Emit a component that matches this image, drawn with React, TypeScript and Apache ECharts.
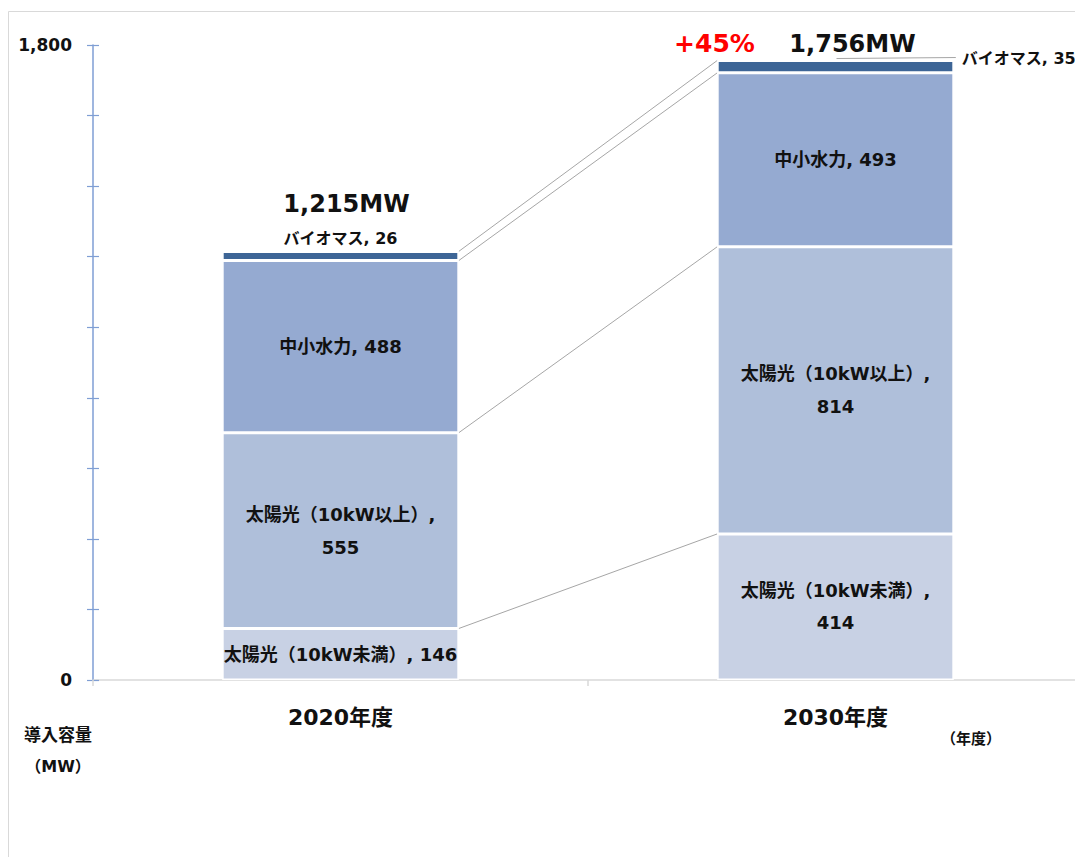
import React, { useEffect, useRef } from "react";
import * as echarts from "echarts";

const categories = ["2020年度", "2030年度"];
const seriesNames = ["太陽光（10kW未満）", "太陽光（10kW以上）", "中小水力", "バイオマス"];
const solarSmall = [146, 414];
const solarLarge = [555, 814];
const hydro = [488, 493];
const biomass = [26, 35];
const totals = [1215, 1756];
const totalLabels = ["1,215MW", "1,756MW"];
const growthLabel = "+45%";
const yTickLabels: Record<number, string> = { 0: "0", 1800: "1,800" };

const FONT = "'DejaVu Sans', 'Noto Sans CJK JP', sans-serif";
const BAR_RATIO = 0.478;

export default function App() {
  const ref = useRef<HTMLDivElement>(null);
  useEffect(() => {
    if (!ref.current) return;
    const chart = echarts.init(ref.current, undefined, { renderer: "svg" });

    const stacks = [solarSmall, solarLarge, hydro, biomass];
    const cum = (i: number) => {
      const out: number[] = [];
      let s = 0;
      for (const arr of stacks) {
        s += arr[i];
        out.push(s);
      }
      return out;
    };
    const c0 = cum(0);
    const c1 = cum(1);
    const connectorData = c0.map((v, k) => [0, v, c1[k]]);

    const baseLabel = {
      show: true,
      color: "#111",
      fontFamily: FONT,
      fontWeight: "bold" as const,
      fontSize: 18,
    };
    const colors = ["#C8D1E4", "#AFBFDA", "#95AAD1", "#3D6596"];

    const barSeries = [
      {
        name: seriesNames[0],
        data: solarSmall,
        label: {
          ...baseLabel,
          position: "inside",
          lineHeight: 32,
          formatter: (p: any) =>
            p.dataIndex === 0 ? `${p.seriesName}, ${p.value}` : `${p.seriesName},\n${p.value}`,
        },
      },
      {
        name: seriesNames[1],
        data: solarLarge,
        label: {
          ...baseLabel,
          position: "inside",
          lineHeight: 33,
          formatter: (p: any) => `${p.seriesName},\n${p.value}`,
        },
      },
      {
        name: seriesNames[2],
        data: hydro,
        label: {
          ...baseLabel,
          position: "inside",
          formatter: (p: any) => `${p.seriesName}, ${p.value}`,
        },
      },
      {
        name: seriesNames[3],
        data: biomass.map((v, i) =>
          i === 0
            ? { value: v, label: { position: "top", distance: 5 } }
            : { value: v, label: { position: "right", distance: 8, offset: [0, -8] } }
        ),
        label: {
          ...baseLabel,
          fontSize: 16,
          formatter: (p: any) => `${p.seriesName}, ${p.value}`,
        },
      },
    ].map((s, i) => ({
      ...s,
      type: "bar",
      stack: "total",
      barWidth: `${BAR_RATIO * 100}%`,
      itemStyle: { color: colors[i], borderColor: "#fff", borderWidth: 1.5 },
      z: 2,
    }));

    const nameStyle = {
      fontFamily: FONT,
      fontWeight: "bold",
      fill: "#111",
      align: "center",
      verticalAlign: "middle",
    };

    chart.setOption({
      animation: false,
      backgroundColor: "#fff",
      grid: { left: 85, right: -2, top: 37, bottom: 177, containLabel: false },
      xAxis: {
        type: "category",
        data: categories,
        boundaryGap: true,
        axisLine: { lineStyle: { color: "#D9D9D9", width: 1.5 } },
        axisTick: { show: true, length: 6, lineStyle: { color: "#D9D9D9", width: 1.5 } },
        axisLabel: {
          color: "#111",
          fontFamily: FONT,
          fontWeight: "bold",
          fontSize: 22,
          margin: 26,
        },
      },
      yAxis: [
        {
          type: "value",
          min: 0,
          max: 1800,
          interval: 200,
          position: "left",
          offset: 0,
          axisLine: { show: true, lineStyle: { color: "#7F9ED4", width: 1.5 } },
          axisTick: { show: true, length: 6, lineStyle: { color: "#7F9ED4", width: 1.2 } },
          splitLine: { show: false },
          axisLabel: {
            color: "#111",
            fontFamily: FONT,
            fontWeight: "bold",
            fontSize: 17,
            margin: 21,
            formatter: (v: number) => yTickLabels[v] ?? "",
          },
        },
        {
          type: "value",
          min: 0,
          max: 1800,
          interval: 200,
          position: "left",
          offset: 0,
          axisLine: { show: false },
          axisTick: { show: true, inside: true, length: 6, lineStyle: { color: "#7F9ED4", width: 1.2 } },
          splitLine: { show: false },
          axisLabel: { show: false },
        },
      ],
      graphic: [
        {
          type: "rect",
          shape: { x: 0.5, y: 3.5, width: 1300, height: 1000 },
          style: { fill: "none", stroke: "#D9D9D9", lineWidth: 1 },
          z: -1,
          silent: true,
        },
        {
          type: "text",
          x: 50,
          y: 727,
          style: { ...nameStyle, text: "導入容量", fontSize: 17 },
        },
        {
          type: "text",
          x: 50,
          y: 758,
          style: { ...nameStyle, text: "（MW）", fontSize: 16 },
        },
        {
          type: "text",
          x: 963,
          y: 731,
          style: { ...nameStyle, text: "（年度）", fontSize: 15 },
        },
      ],
      series: [
        ...barSeries,
        {
          type: "custom",
          name: "connectors",
          data: connectorData,
          encode: { x: 0, y: 1 },
          z: 1,
          silent: true,
          renderItem: (params: any, api: any) => {
            const a = api.value(1);
            const b = api.value(2);
            const p0 = api.coord([0, a]);
            const p1 = api.coord([1, b]);
            const half = (api.size([1, 0])[0] * BAR_RATIO) / 2;
            return {
              type: "line",
              shape: { x1: p0[0] + half, y1: p0[1], x2: p1[0] - half, y2: p1[1] },
              style: { stroke: "#A6A6A6", lineWidth: 1 },
            };
          },
        },
        {
          type: "custom",
          name: "totals",
          data: totals.map((t, i) => [i, t]),
          encode: { x: 0, y: 1 },
          z: 3,
          silent: true,
          renderItem: (params: any, api: any) => {
            const i = params.dataIndex;
            const p = api.coord([api.value(0), api.value(1)]);
            const half = (api.size([1, 0])[0] * BAR_RATIO) / 2;
            const textStyle = {
              fontFamily: FONT,
              fontWeight: "bold",
              fontSize: 24,
              fill: "#111",
              align: "center",
              verticalAlign: "middle",
            };
            if (i === 0) {
              return {
                type: "text",
                x: p[0] + 6,
                y: p[1] - 47,
                style: { ...textStyle, text: totalLabels[i] },
              };
            }
            return {
              type: "group",
              children: [
                {
                  type: "text",
                  x: p[0] + 17,
                  y: p[1] - 17,
                  style: { ...textStyle, text: totalLabels[i] },
                },
                {
                  type: "text",
                  x: p[0] - 121,
                  y: p[1] - 17,
                  style: { ...textStyle, text: growthLabel, fill: "#FF0000", fontSize: 25 },
                },
                {
                  type: "line",
                  shape: { x1: p[0] + 1, y1: p[1] - 2, x2: p[0] + half + 2, y2: p[1] - 3 },
                  style: { stroke: "#A6A6A6", lineWidth: 1 },
                },
              ],
            };
          },
        },
      ],
    });
    return () => chart.dispose();
  }, []);
  return <div ref={ref} style={{ width: 1075, height: 849 }} />;
}
